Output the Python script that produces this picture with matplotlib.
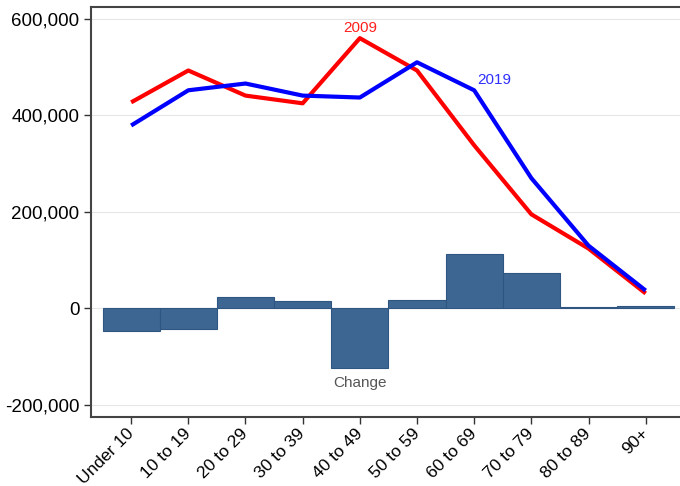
import matplotlib
matplotlib.use("Agg")
import matplotlib.pyplot as plt
from matplotlib.ticker import FuncFormatter

categories = ["Under 10", "10 to 19", "20 to 29", "30 to 39", "40 to 49",
              "50 to 59", "60 to 69", "70 to 79", "80 to 89", "90+"]
pop_2009 = [427000, 493000, 441000, 425000, 560000, 493000, 338000, 195000, 124000, 31000]
pop_2019 = [379000, 452000, 466000, 441000, 437000, 510000, 452000, 270000, 130000, 37000]
change = [-46000, -42000, 23000, 16000, -124000, 17000, 112000, 73000, 2000, 6000]
yticks = [-200000, 0, 200000, 400000, 600000]

plt.rcParams['font.family'] = ['Liberation Sans', 'DejaVu Sans']

fig = plt.figure(figsize=(6.8, 4.86), dpi=100)
ax = fig.add_axes([0.134, 0.142, 0.866, 0.844])

x = list(range(len(categories)))
ax.bar(x, change, width=1.0, color="#3d6792", edgecolor="#2f5680", linewidth=0.8, zorder=2)
ax.plot(x, pop_2009, color="#ff0000", lw=3, zorder=3, solid_capstyle="butt")
ax.plot(x, pop_2019, color="#0000ff", lw=3, zorder=4, solid_capstyle="butt")

ax.text(4, 566000, "2009", color="#ff2020", fontsize=11, ha="center", va="bottom")
ax.text(6.35, 459000, "2019", color="#3030ff", fontsize=11, ha="center", va="bottom")
ax.text(4, -155000, "Change", color="#555555", fontsize=11, ha="center", va="center")

ax.set_xlim(-0.7, 9.6)
ax.set_ylim(-225000, 625000)
ax.set_yticks(yticks)
ax.yaxis.set_major_formatter(FuncFormatter(lambda v, p: f"{int(v):,}"))
ax.set_xticks(x)
ax.set_xticklabels(categories, rotation=45, ha="right", va="center",
                   rotation_mode="anchor", fontsize=12.5)
ax.tick_params(axis="y", labelsize=13.5, length=5, width=1, color="#333333")
ax.tick_params(axis="x", length=5, width=1, color="#333333", pad=5)

ax.grid(axis="y", color="#e6e6e6", lw=0.8, zorder=0)
ax.set_axisbelow(True)
for s in ["left", "bottom", "top"]:
    ax.spines[s].set_color("#444444")
    ax.spines[s].set_linewidth(1.5)
ax.spines["right"].set_visible(False)

fig.savefig("out.png", dpi=100)
